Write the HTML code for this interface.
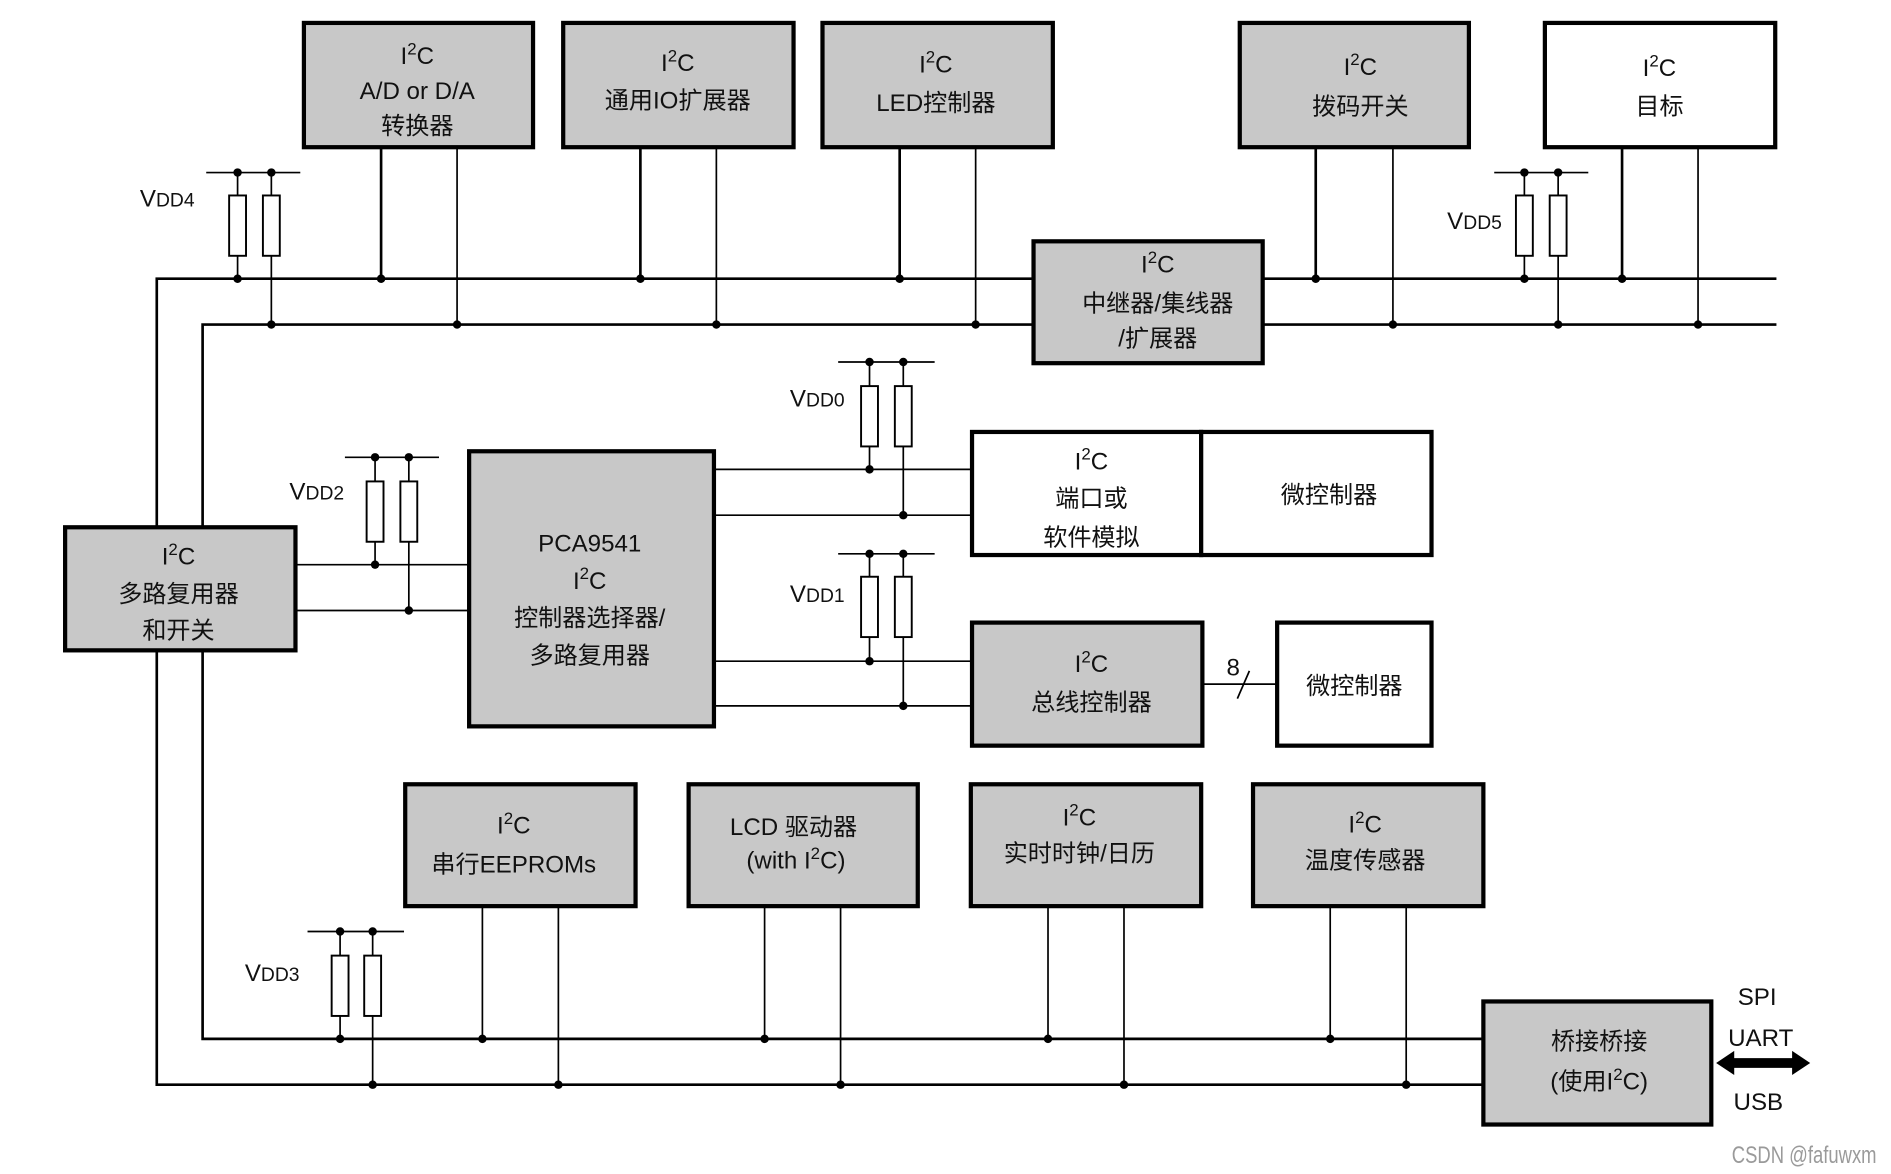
<!DOCTYPE html>
<html><head><meta charset="utf-8"><style>
html,body{margin:0;padding:0;background:#fff;}
svg{display:block;}
text{font-family:"Liberation Sans","Noto Sans CJK SC",sans-serif;font-size:20px;fill:#111;}
.b{fill:#c8c8c8;stroke:#000;stroke-width:3.5;}
.w{fill:#fff;stroke:#000;stroke-width:3.5;}
.bus{stroke:#000;stroke-width:2.2;fill:none;}
.t{stroke:#000;stroke-width:1.4;fill:none;}
.r{fill:#fff;stroke:#000;stroke-width:1.6;}
</style></head><body>
<svg width="1891" height="1174" viewBox="0 0 1568 973" preserveAspectRatio="none" xmlns="http://www.w3.org/2000/svg">
<path class="bus" d="M857 231 H130 V437 M130 539 V899 H1230 M1047 231 H1473"/>
<path class="bus" d="M857 269 H168 V437 M168 539 V861 H1230 M1047 269 H1473"/>
<path class="bus" d="M316 122V231 M531 122V231 M746 122V231 M1091 122V231 M1345 122V231"/>
<path class="t" d="M379 122V269 M594 122V269 M809 122V269 M1155 122V269 M1408 122V269"/>
<path class="t" d="M400 751V861 M634 751V861 M869 751V861 M1103 751V861"/>
<path class="t" d="M463 751V899 M697 751V899 M932 751V899 M1166 751V899"/>
<path class="t" d="M245 468H389 M245 506H389 M592 389H806 M592 427H806 M592 548H806 M592 585H806"/>
<path class="t" d="M997 567H1059"/>
<path class="t" d="M1026 579 L1036 556" stroke-width="2"/>
<text x="1017" y="560" font-size="16">8</text>
<g class="t" stroke-width="2">
<path d="M171 143H249 M1239 143H1317 M695 300H775 M695 459H775 M286 379H364 M255 772H335"/>
<path d="M197 143V231 M225 143V269 M1264 143V231 M1292 143V269 M721 300V389 M749 300V427 M721 459V548 M749 459V585 M311 379V468 M339 379V506 M282 772V861 M309 772V899"/>
</g>
<g class="r">
<rect x="190" y="162" width="14" height="50"/><rect x="218" y="162" width="14" height="50"/>
<rect x="1257" y="162" width="14" height="50"/><rect x="1285" y="162" width="14" height="50"/>
<rect x="714" y="320" width="14" height="50"/><rect x="742" y="320" width="14" height="50"/>
<rect x="714" y="478" width="14" height="50"/><rect x="742" y="478" width="14" height="50"/>
<rect x="304" y="399" width="14" height="50"/><rect x="332" y="399" width="14" height="50"/>
<rect x="275" y="792" width="14" height="50"/><rect x="302" y="792" width="14" height="50"/>
</g>
<g fill="#000">
<circle cx="197" cy="143" r="3.5"/><circle cx="225" cy="143" r="3.5"/><circle cx="197" cy="231" r="3.5"/><circle cx="225" cy="269" r="3.5"/>
<circle cx="1264" cy="143" r="3.5"/><circle cx="1292" cy="143" r="3.5"/><circle cx="1264" cy="231" r="3.5"/><circle cx="1292" cy="269" r="3.5"/>
<circle cx="721" cy="300" r="3.5"/><circle cx="749" cy="300" r="3.5"/><circle cx="721" cy="389" r="3.5"/><circle cx="749" cy="427" r="3.5"/>
<circle cx="721" cy="459" r="3.5"/><circle cx="749" cy="459" r="3.5"/><circle cx="721" cy="548" r="3.5"/><circle cx="749" cy="585" r="3.5"/>
<circle cx="311" cy="379" r="3.5"/><circle cx="339" cy="379" r="3.5"/><circle cx="311" cy="468" r="3.5"/><circle cx="339" cy="506" r="3.5"/>
<circle cx="282" cy="772" r="3.5"/><circle cx="309" cy="772" r="3.5"/><circle cx="282" cy="861" r="3.5"/><circle cx="309" cy="899" r="3.5"/>
<circle cx="316" cy="231" r="3.5"/><circle cx="531" cy="231" r="3.5"/><circle cx="746" cy="231" r="3.5"/><circle cx="1091" cy="231" r="3.5"/><circle cx="1345" cy="231" r="3.5"/>
<circle cx="379" cy="269" r="3.5"/><circle cx="594" cy="269" r="3.5"/><circle cx="809" cy="269" r="3.5"/><circle cx="1155" cy="269" r="3.5"/><circle cx="1408" cy="269" r="3.5"/>
<circle cx="400" cy="861" r="3.5"/><circle cx="634" cy="861" r="3.5"/><circle cx="869" cy="861" r="3.5"/><circle cx="1103" cy="861" r="3.5"/>
<circle cx="463" cy="899" r="3.5"/><circle cx="697" cy="899" r="3.5"/><circle cx="932" cy="899" r="3.5"/><circle cx="1166" cy="899" r="3.5"/>
</g>
<text x="116" y="171">V<tspan font-size="16">DD4</tspan></text>
<text x="1200" y="190">V<tspan font-size="16">DD5</tspan></text>
<text x="655" y="337">V<tspan font-size="16">DD0</tspan></text>
<text x="655" y="499">V<tspan font-size="16">DD1</tspan></text>
<text x="240" y="414">V<tspan font-size="16">DD2</tspan></text>
<text x="203" y="813">V<tspan font-size="16">DD3</tspan></text>
<rect class="b" x="252" y="19" width="190" height="103"/>
<rect class="b" x="467" y="19" width="191" height="103"/>
<rect class="b" x="682" y="19" width="191" height="103"/>
<rect class="b" x="1028" y="19" width="190" height="103"/>
<rect class="w" x="1281" y="19" width="191" height="103"/>
<rect class="b" x="857" y="200" width="190" height="101"/>
<rect class="b" x="54" y="437" width="191" height="102"/>
<rect class="b" x="389" y="374" width="203" height="228"/>
<rect class="w" x="806" y="358" width="190" height="102"/>
<rect class="w" x="996" y="358" width="191" height="102"/>
<rect class="b" x="806" y="516" width="191" height="102"/>
<rect class="w" x="1059" y="516" width="128" height="102"/>
<rect class="b" x="336" y="650" width="191" height="101"/>
<rect class="b" x="571" y="650" width="190" height="101"/>
<rect class="b" x="805" y="650" width="191" height="101"/>
<rect class="b" x="1039" y="650" width="191" height="101"/>
<rect class="b" x="1230" y="830" width="189" height="102"/>
<g text-anchor="middle">
<text x="346" y="53">I<tspan font-size="14" dy="-8">2</tspan><tspan dy="8">C</tspan></text>
<text x="346" y="82">A/D or D/A</text>
<text x="346" y="111">转换器</text>
<text x="562" y="59">I<tspan font-size="14" dy="-8">2</tspan><tspan dy="8">C</tspan></text>
<text x="562" y="90">通用IO扩展器</text>
<text x="776" y="60">I<tspan font-size="14" dy="-8">2</tspan><tspan dy="8">C</tspan></text>
<text x="776" y="92">LED控制器</text>
<text x="1128" y="62">I<tspan font-size="14" dy="-8">2</tspan><tspan dy="8">C</tspan></text>
<text x="1128" y="95">拨码开关</text>
<text x="1376" y="63">I<tspan font-size="14" dy="-8">2</tspan><tspan dy="8">C</tspan></text>
<text x="1376" y="95">目标</text>
<text x="960" y="226">I<tspan font-size="14" dy="-8">2</tspan><tspan dy="8">C</tspan></text>
<text x="960" y="258">中继器/集线器</text>
<text x="960" y="287">/扩展器</text>
<text x="148" y="468">I<tspan font-size="14" dy="-8">2</tspan><tspan dy="8">C</tspan></text>
<text x="148" y="499">多路复用器</text>
<text x="148" y="529">和开关</text>
<text x="489" y="457">PCA9541</text>
<text x="489" y="488">I<tspan font-size="14" dy="-8">2</tspan><tspan dy="8">C</tspan></text>
<text x="489" y="519">控制器选择器/</text>
<text x="489" y="550">多路复用器</text>
<text x="905" y="389">I<tspan font-size="14" dy="-8">2</tspan><tspan dy="8">C</tspan></text>
<text x="905" y="420">端口或</text>
<text x="905" y="452">软件模拟</text>
<text x="1102" y="417">微控制器</text>
<text x="905" y="557">I<tspan font-size="14" dy="-8">2</tspan><tspan dy="8">C</tspan></text>
<text x="905" y="589">总线控制器</text>
<text x="1123" y="575">微控制器</text>
<text x="426" y="691">I<tspan font-size="14" dy="-8">2</tspan><tspan dy="8">C</tspan></text>
<text x="426" y="723">串行EEPROMs</text>
<text x="658" y="692">LCD 驱动器</text>
<text x="660" y="720">(with I<tspan font-size="14" dy="-8">2</tspan><tspan dy="8">C)</tspan></text>
<text x="895" y="684">I<tspan font-size="14" dy="-8">2</tspan><tspan dy="8">C</tspan></text>
<text x="895" y="714">实时时钟/日历</text>
<text x="1132" y="690">I<tspan font-size="14" dy="-8">2</tspan><tspan dy="8">C</tspan></text>
<text x="1132" y="720">温度传感器</text>
<text x="1326" y="870">桥接桥接</text>
<text x="1326" y="903">(使用I<tspan font-size="14" dy="-8">2</tspan><tspan dy="8">C)</tspan></text>
<text x="1457" y="833">SPI</text>
<text x="1460" y="867">UART</text>
<text x="1458" y="920">USB</text>
</g>
<path d="M1423 881 L1438 871 V877 H1486 V871 L1501 881 L1486 891 V885 H1438 V891 Z" fill="#000"/>
<text x="1436" y="964" font-size="12" textLength="120" lengthAdjust="spacingAndGlyphs" style="fill:#9a9a9a">CSDN @fafuwxm</text>
</svg>
</body></html>
